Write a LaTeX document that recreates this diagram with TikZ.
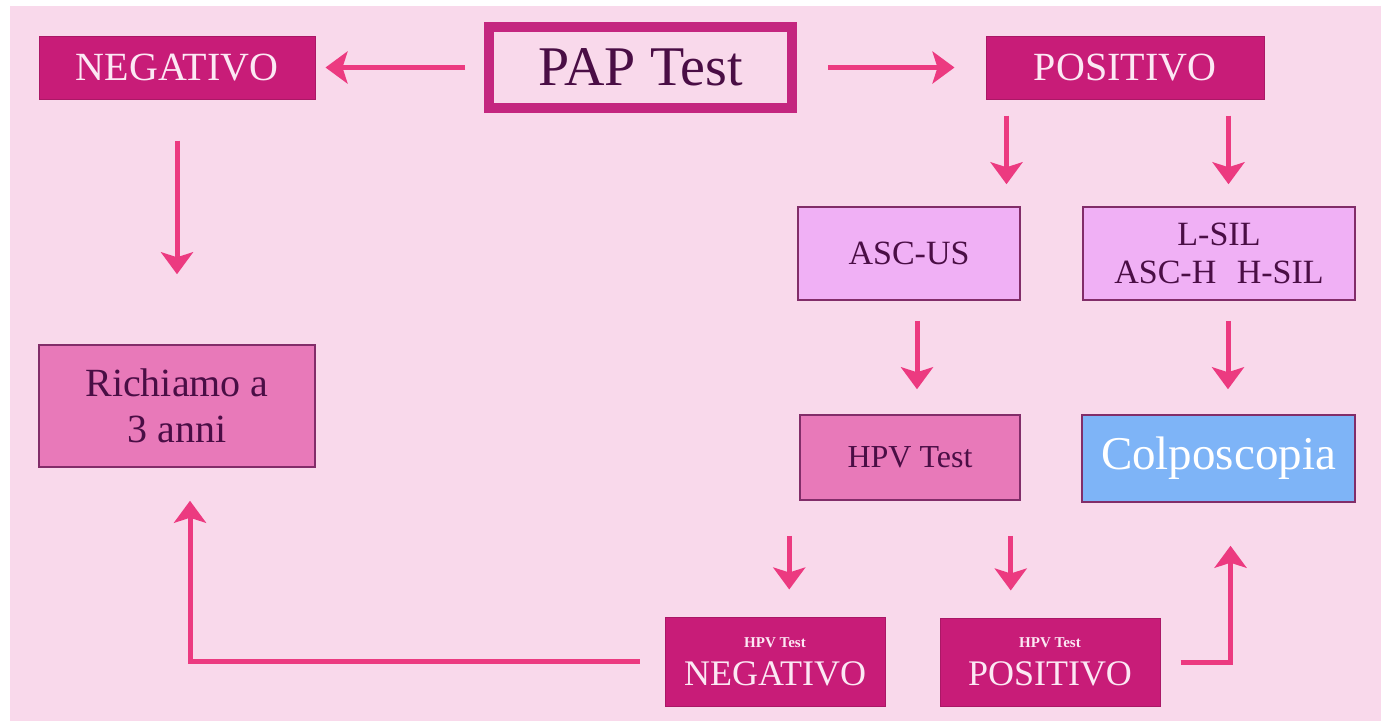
\documentclass[tikz,border=0pt]{standalone}
\usepackage{fontspec}
\setmainfont{Liberation Serif}
\usetikzlibrary{arrows.meta,positioning,calc}
\definecolor{bgPink}{RGB}{249,217,235}
\definecolor{magDark}{RGB}{200,28,120}
\definecolor{papBorder}{RGB}{196,38,127}
\definecolor{midPink}{RGB}{232,121,185}
\definecolor{lilac}{RGB}{240,176,245}
\definecolor{skyBlue}{RGB}{126,180,247}
\definecolor{edgePurple}{RGB}{130,45,105}
\definecolor{arrowPink}{RGB}{236,58,128}
\definecolor{inkPurple}{RGB}{74,14,69}
\definecolor{paleText}{RGB}{252,232,244}

\begin{document}
\begin{tikzpicture}[x=1pt,y=-1pt,
    darkbox/.style={fill=magDark, draw=magDark!85!black, line width=1pt,
      text=paleText, inner sep=0pt, align=center},
    papbox/.style={draw=papBorder, fill=bgPink, line width=10pt, text=inkPurple,
      minimum width=303pt, minimum height=81pt, font={\fontsize{56}{60}\selectfont}},
    softbox/.style={draw=edgePurple, line width=1.5pt, text=inkPurple,
      inner sep=0pt, align=center},
    arr/.style={draw=arrowPink, line width=5pt,
      -{Stealth[length=22pt,width=32pt,inset=5pt]}}
  ]
  \useasboundingbox (0,0) rectangle (1381,721);
  \fill[white] (0,0) rectangle (1381,721);
  \fill[bgPink] (10,6) rectangle (1381,721);

  \node[darkbox, minimum width=276pt, minimum height=63pt,
    font={\fontsize{40}{46}\selectfont}] (neg) at (177,67.5) {NEGATIVO};
  \node[papbox] (pap) at (640.5,67.5) {PAP Test};
  \node[darkbox, minimum width=278pt, minimum height=63pt,
    font={\fontsize{40}{46}\selectfont}] (pos) at (1125,67.5) {POSITIVO};

  \node[softbox, fill=midPink, minimum width=276pt, minimum height=122pt,
    font={\fontsize{40}{46}\selectfont}] (richiamo) at (177,406) {Richiamo a\\3 anni};
  \node[softbox, fill=lilac, minimum width=222pt, minimum height=93pt,
    font={\fontsize{34}{38}\selectfont}] (ascus) at (909,253.5) {ASC-US};
  \node[softbox, fill=lilac, minimum width=272pt, minimum height=93pt,
    font={\fontsize{34}{38}\selectfont}] (lsil) at (1219,253.5) {L-SIL\\ASC-H\hspace{0.6em}H-SIL};
  \node[softbox, fill=midPink, minimum width=220pt, minimum height=85pt,
    font={\fontsize{32}{36}\selectfont}] (hpv) at (910,457.5) {HPV Test};
  \node[softbox, fill=skyBlue, text=white, minimum width=273pt, minimum height=87pt,
    font={\fontsize{47}{50}\selectfont}] (colpo) at (1218.5,458.5) {Colposcopia};

  \node[darkbox, minimum width=220pt, minimum height=89pt,
    font={\fontsize{36}{38}\selectfont}] (hneg) at (775,661.5)
    {{\fontsize{15}{17}\selectfont\bfseries HPV Test}\\NEGATIVO};
  \node[darkbox, minimum width=220pt, minimum height=88pt,
    font={\fontsize{36}{38}\selectfont}] (hpos) at (1050,662)
    {{\fontsize{15}{17}\selectfont\bfseries HPV Test}\\POSITIVO};

  \draw[arr, shorten <=19pt, shorten >=10pt] (pap.west) -- (neg.east);
  \draw[arr, shorten <=31pt, shorten >=31pt] (pap.east) -- (pos.west);
  \draw[arr, shorten <=41pt, shorten >=70pt] (neg.south) -- (richiamo.north);
  \draw[arr, shorten <=16pt, shorten >=22pt] ([xshift=21pt]pos.south west) -- ([xshift=21pt]pos.south west |- ascus.north);
  \draw[arr, shorten <=16pt, shorten >=22pt] ([xshift=-36pt]pos.south east) -- ([xshift=-36pt]pos.south east |- lsil.north);
  \draw[arr, shorten <=20pt, shorten >=25pt] ([xshift=8pt]ascus.south) -- ([xshift=8pt]ascus.south |- hpv.north);
  \draw[arr, shorten <=20pt, shorten >=25pt] ([xshift=9pt]lsil.south) -- ([xshift=9pt]lsil.south |- colpo.north);
  \draw[arr, shorten <=35pt, shorten >=27pt] ([xshift=-10pt]hpv.south west) -- ([xshift=-10pt]hpv.south west |- hneg.north);
  \draw[arr, shorten <=35pt, shorten >=27pt] ([xshift=-10pt]hpv.south east) -- ([xshift=-10pt]hpv.south east |- hpos.north);
  \draw[arr, shorten <=25pt, shorten >=33pt] (hneg.west) -| ([xshift=13pt]richiamo.south);
  \draw[arr, shorten <=20pt, shorten >=43pt] (hpos.east) -| ([xshift=12pt]colpo.south);
\end{tikzpicture}
\end{document}
